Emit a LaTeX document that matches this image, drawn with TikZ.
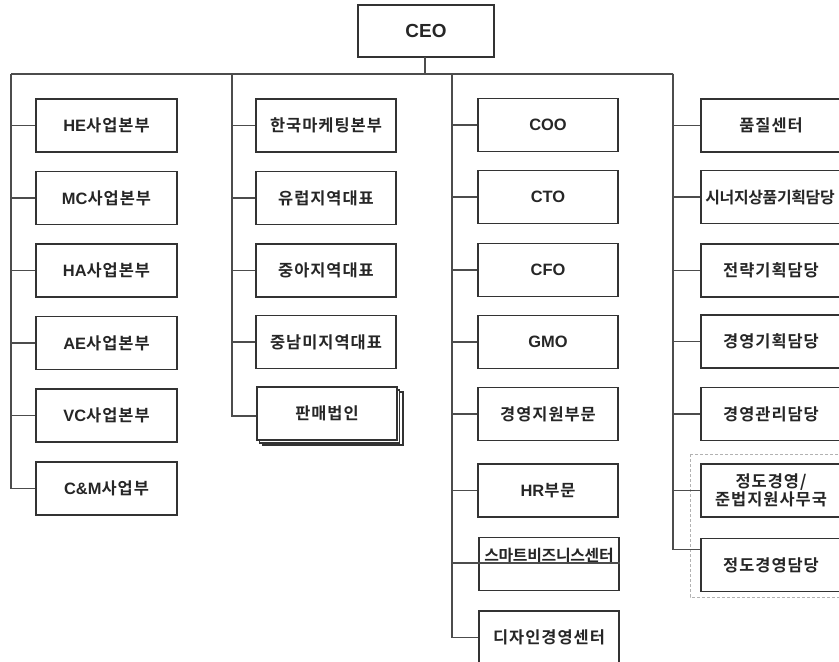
\documentclass[tikz,border=0pt]{standalone}
\usepackage{fontspec}
\setmainfont{Liberation Sans}
\newfontfamily\kor{Noto Sans CJK KR}[BoldFont={Noto Sans CJK KR Bold},LetterSpace=6]
\newfontfamily\korn{Noto Sans CJK KR}[BoldFont={Noto Sans CJK KR Bold},LetterSpace=-2]
\newfontfamily\lt{Liberation Sans}
\usetikzlibrary{calc}
\begin{document}
\begin{tikzpicture}[x=1bp,y=-1bp,
  box/.style={draw=black!80,line width=1.2bp,fill=white,minimum width=140bp,minimum height=53bp,inner sep=0pt,
    font=\kor\bfseries\fontsize{16.5}{18}\selectfont,align=center,text=black!85},
  lbl/.style={font=\korn\bfseries\fontsize{16}{18}\selectfont,text=black!85,inner sep=0pt},
  conn/.style={draw=black!70,line width=1.1bp},
  grp/.style={draw=black!30,line width=0.8bp,dash pattern=on 3bp off 2bp}]
\clip (0,0) rectangle (839,662);
\fill[white] (0,0) rectangle (839,662);
% CEO
\node[box,minimum width=136bp,minimum height=52bp,font=\lt\bfseries\fontsize{19}{22}\selectfont] (ceo) at (426,31) {CEO};
\coordinate (b1) at (11,74);
\coordinate (b2) at (232,74);
\coordinate (b3) at (452,74);
\coordinate (b4) at (673,74);
% group
\draw[grp] (690,454) rectangle (846,597);
% column 1
\node[box,minimum width=141bp] (he) at (106.5,125.5) {{\lt\bfseries HE}사업본부};
\node[box,minimum width=141bp] (mc) at (106.5,198) {{\lt\bfseries MC}사업본부};
\node[box,minimum width=141bp] (ha) at (106.5,270.5) {{\lt\bfseries HA}사업본부};
\node[box,minimum width=141bp] (ae) at (106.5,343) {{\lt\bfseries AE}사업본부};
\node[box,minimum width=141bp] (vc) at (106.5,415.5) {{\lt\bfseries VC}사업본부};
\node[box,minimum width=141bp] (cm) at (106.5,488.5) {{\lt\bfseries C\&M}사업부};
% column 2
\node[box] (kr) at (326,125.5) {한국마케팅본부};
\node[box] (eu) at (326,198) {유럽지역대표};
\node[box] (me) at (326,270.5) {중아지역대표};
\node[box] (la) at (326,342) {중남미지역대표};
\node[box] (sales3) at (333,418.5) {};
\node[box] (sales2) at (329.5,416.5) {};
\node[box] (sales) at (327,413.5) {판매법인};
% column 3
\node[box] (coo) at (548,125) {{\lt\bfseries COO}};
\node[box] (cto) at (548,197) {{\lt\bfseries CTO}};
\node[box] (cfo) at (548,270) {{\lt\bfseries CFO}};
\node[box] (gmo) at (548,342) {{\lt\bfseries GMO}};
\node[box] (ms) at (548,414) {경영지원부문};
\node[box] (hr) at (548,490.5) {{\lt\bfseries HR}부문};
\node[box] (sm) at (549,564) {};
\node[lbl,anchor=base] (smt) at (549,561.5) {스마트비즈니스센터};
\node[box] (dz) at (549,637.5) {디자인경영센터};
% column 4
\node[box] (qc) at (771,125.5) {품질센터};
\node[box] (sy) at (771,197) {};
\node[lbl] (syt) at (770,197) {시너지상품기획담당};
\node[box] (st) at (771,270.5) {전략기획담당};
\node[box] (mp) at (771,341.5) {경영기획담당};
\node[box] (mm) at (771,414) {경영관리담당};
\node[box,font=\kor\bfseries\fontsize{16.5}{17.5}\selectfont] (cp) at (771,490.5) {정도경영/\\준법지원사무국};
\node[box] (ce) at (771,565) {정도경영담당};
% connectors
\draw[conn] (425,57) -- (425,74);
\draw[conn] (b1) -- (b4);
\foreach \n in {he,mc,ha,ae,vc,cm} \draw[conn] (b1) |- (\n.west);
\foreach \n in {kr,eu,me,la} \draw[conn] (b2) |- (\n.west);
\draw[conn] (b2) |- ([yshift=-2.5bp]sales.west);
\foreach \n in {coo,cto,cfo,gmo,ms,hr,dz} \draw[conn] (b3) |- (\n.west);
\draw[conn] (b3) |- ([yshift=1bp]sm.west) -- ([yshift=1bp]sm.east);
\foreach \n in {qc,sy,st,mp,mm,cp} \draw[conn] (b4) |- (\n.west);
\draw[conn] (b4) |- ([yshift=-12bp]ce.north west);
\end{tikzpicture}
\end{document}
